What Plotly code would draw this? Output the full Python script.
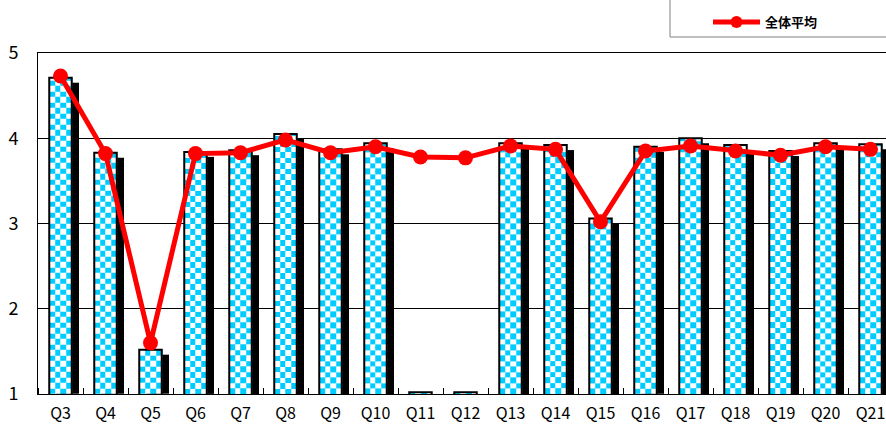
import plotly.graph_objects as go

categories = ["Q3", "Q4", "Q5", "Q6", "Q7", "Q8", "Q9", "Q10", "Q11", "Q12",
              "Q13", "Q14", "Q15", "Q16", "Q17", "Q18", "Q19", "Q20", "Q21"]
bar_values = [4.71, 3.83, 1.52, 3.84, 3.86, 4.05, 3.87, 3.94, 1.02, 1.02,
              3.94, 3.92, 3.06, 3.90, 4.00, 3.92, 3.85, 3.94, 3.93]
avg_values = [4.73, 3.82, 1.60, 3.82, 3.83, 3.98, 3.83, 3.90, 3.78, 3.77,
              3.91, 3.87, 3.02, 3.85, 3.91, 3.85, 3.80, 3.90, 3.87]
y_ticks = [1, 2, 3, 4, 5]
legend_name = "全体平均"

W, H = 886, 425
ML, MR, MT, MB = 38, 0, 53, 31
plot_h = H - MT - MB
plot_w = W - ML - MR
y_min, y_max = 1, 5
unit_px = plot_h / (y_max - y_min)

BAR_W = 0.5
SHADOW_DX = 0.15
SHADOW_DY = 5 / unit_px
SQ = 5.5 / unit_px
NCOL = 4
CYAN = "#00CCFF"
FONT = "Noto Sans CJK JP"

xs = list(range(len(categories)))
fig = go.Figure()

# shadows (black)
for i, v in zip(xs, bar_values):
    top = v - SHADOW_DY
    if top <= y_min:
        continue
    fig.add_trace(go.Heatmap(
        x=[i - BAR_W / 2 + SHADOW_DX, i + BAR_W / 2 + SHADOW_DX],
        y=[y_min, top], z=[[1]],
        colorscale=[[0, "#000000"], [1, "#000000"]],
        showscale=False, hoverinfo="skip", zsmooth=False))

# checker fill
for i, v in zip(xs, bar_values):
    edges = [y_min]
    while edges[-1] + SQ < v - 1e-9:
        edges.append(edges[-1] + SQ)
    edges.append(v)
    nrow = len(edges) - 1
    xe = [i - BAR_W / 2 + k * BAR_W / NCOL for k in range(NCOL + 1)]
    z = [[(r + c) % 2 for c in range(NCOL)] for r in range(nrow)]
    fig.add_trace(go.Heatmap(
        x=xe, y=edges, z=z, zmin=0, zmax=1,
        colorscale=[[0, CYAN], [1, "#FFFFFF"]],
        showscale=False, hoverinfo="skip", zsmooth=False))

# bar outlines
fig.add_trace(go.Bar(
    x=xs, y=bar_values, width=BAR_W,
    marker=dict(color="rgba(0,0,0,0)", line=dict(color="#000000", width=2)),
    showlegend=False, hoverinfo="skip"))

# average line
fig.add_trace(go.Scatter(
    x=xs, y=avg_values, mode="lines+markers", name=legend_name,
    line=dict(color="#FF0000", width=5),
    marker=dict(color="#FF0000", size=15, symbol="circle")))

x_hi = -0.5 + plot_w / 45.0

# legend frame (top and right run off the page, as in the source)
box_left = (670 - ML) / plot_w
box_bottom = 1 + (MT - 37) / plot_h
fig.add_shape(type="rect", xref="paper", yref="paper",
              x0=box_left, x1=1.1, y0=box_bottom, y1=1.5,
              line=dict(color="#808080", width=1), fillcolor="#FFFFFF",
              layer="below")

fig.update_layout(
    width=W, height=H,
    margin=dict(l=ML, r=MR, t=MT, b=MB, autoexpand=False),
    plot_bgcolor="#FFFFFF", paper_bgcolor="#FFFFFF",
    barmode="overlay",
    font=dict(family=FONT, color="#000000"),
    showlegend=True,
    hovermode=False,
    legend=dict(
        x=(708 - ML) / plot_w, xanchor="left",
        y=box_bottom, yanchor="bottom",
        orientation="h",
        borderwidth=0, bgcolor="rgba(0,0,0,0)",
        font=dict(family=FONT, size=13, color="#000000", weight="bold"),
        itemwidth=47, itemsizing="constant"),
    xaxis=dict(
        range=[-0.5, x_hi], tickmode="array", tickvals=xs, ticktext=categories,
        ticks="", showgrid=False, zeroline=False, ticklabeloverflow="allow",
        ticklabelstandoff=5,
        showline=True, linecolor="#000000", linewidth=1, mirror=True,
        tickfont=dict(family=FONT, size=16, color="#000000"),
        minor=dict(tickmode="linear", tick0=0.5, dtick=1, ticks="inside",
                   ticklen=6, tickcolor="#000000", showgrid=False)),
    yaxis=dict(
        range=[y_min, y_max], tickmode="array", tickvals=y_ticks,
        showgrid=True, gridcolor="#000000", gridwidth=1, zeroline=False,
        showline=True, linecolor="#000000", linewidth=1,
        ticks="outside", ticklen=0, ticklabelstandoff=15,
        tickfont=dict(family=FONT, size=18, color="#000000")),
)

# drop the browser's default 8px page margin so the 886x425 figure fills the window
fig.write_html("out.html", config={"displayModeBar": False},
               post_script="document.body.style.margin='0';")
